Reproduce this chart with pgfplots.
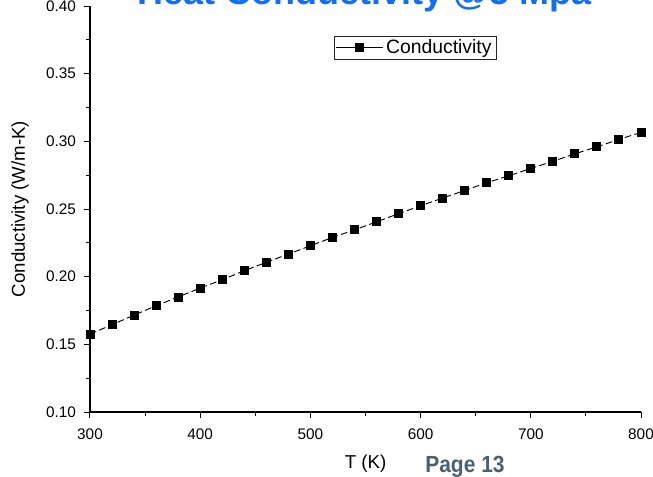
\documentclass[border=0pt]{standalone}
\usepackage{fontspec}
\setmainfont{Liberation Sans}
\usepackage{graphicx}
\usepackage{pgfplots}
\pgfplotsset{compat=1.18}
\definecolor{titleblue}{RGB}{20,110,245}
\definecolor{pagegray}{RGB}{75,96,115}
\begin{document}
\begin{tikzpicture}
\useasboundingbox (-67.5pt,-48pt) rectangle (422.25pt,309pt);
\begin{axis}[
  scale only axis, width=413.25pt, height=304.5pt,
  xmin=300, xmax=800, ymin=0.10, ymax=0.40,
  axis x line=bottom, axis y line=left,
  axis line style={-, line width=0.9pt, black},
  xtick={300,400,500,600,700,800},
  ytick={0.10,0.15,0.20,0.25,0.30,0.35,0.40},
  minor x tick num=1, minor y tick num=1,
  tick align=outside,
  major tick length=4.5pt, minor tick length=2.8pt,
  every tick/.style={black, line width=0.75pt},
  tick label style={font=\fontsize{11.5}{11.5}\selectfont},
  /pgf/number format/assume math mode=true,
  scaled y ticks=false,
  xticklabel style={yshift=-4.5pt, /pgf/number format/1000 sep={}},
  yticklabel style={xshift=-2.5pt, /pgf/number format/.cd, fixed, fixed zerofill, precision=2},
  xlabel={T (K)}, ylabel={Conductivity (W/m-K)},
  label style={font=\fontsize{14}{14}\selectfont},
  xlabel style={at={(axis description cs:0.5,0)}, anchor=base, yshift=-42pt},
  ylabel style={at={(axis description cs:-0.118,0.5)}, anchor=base, rotate=0},
  legend style={at={(axis description cs:0.442,0.926)}, anchor=north west,
    draw=black!85, line width=0.6pt, inner xsep=1.5pt, inner ysep=0.5pt,
    font=\fontsize{14.5}{15}\selectfont, legend cell align=left},
  legend image code/.code={\draw[mark repeat=2,mark phase=2,#1,solid] plot coordinates {(0pt,0pt) (17.5pt,0pt) (35pt,0pt)};},
]
\addplot[black, line width=0.7pt, dash pattern=on 5pt off 2.5pt, mark=square*, mark size=3pt, mark options={solid}]
coordinates {
(300,0.1576) (320,0.1645) (340,0.1716) (360,0.1785) (380,0.1850)
(400,0.1916) (420,0.1977) (440,0.2044) (460,0.2106) (480,0.2167)
(500,0.2228) (520,0.2290) (540,0.2346) (560,0.2405) (580,0.2465)
(600,0.2524) (620,0.2581) (640,0.2637) (660,0.2694) (680,0.2745)
(700,0.2800) (720,0.2852) (740,0.2908) (760,0.2959) (780,0.3014)
(800,0.3066)
};
\addlegendentry{Conductivity}
\end{axis}
\node[anchor=base, text=titleblue, font=\bfseries\fontsize{27}{27}\selectfont] at (205.9pt,305.6pt) {Heat Conductivity @5 Mpa};
\node[anchor=base, text=pagegray, font=\bfseries\fontsize{17.5}{17.5}\selectfont, inner sep=0pt] at (281.25pt,-45pt) {\scalebox{0.9}[1]{Page 13}};
\end{tikzpicture}
\end{document}
